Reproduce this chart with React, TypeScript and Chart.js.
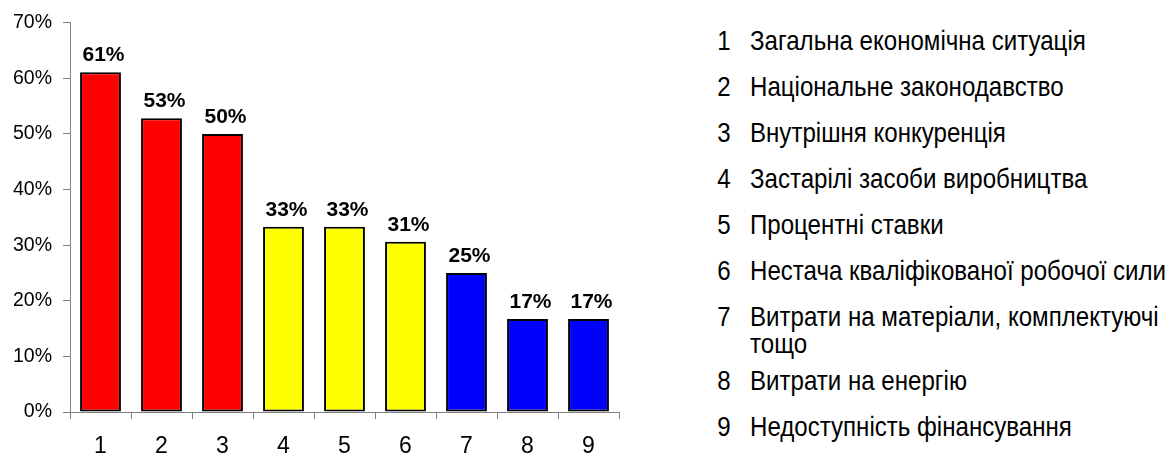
import React, { useEffect, useMemo, useRef } from "react";
import { Chart, registerables } from "chart.js";

Chart.register(...registerables);

// ---- data ----
const categories = ["1", "2", "3", "4", "5", "6", "7", "8", "9"];
const shares = [61.1, 52.8, 50.0, 33.3, 33.3, 30.6, 25.0, 16.7, 16.7];
const barColors = ["#FF0000", "#FF0000", "#FF0000", "#FFFF00", "#FFFF00", "#FFFF00", "#0000FF", "#0000FF", "#0000FF"];
const yTickValues = [0, 10, 20, 30, 40, 50, 60, 70];
const legendItems = [
  "Загальна економічна ситуація",
  "Національне законодавство",
  "Внутрішня конкуренція",
  "Застарілі засоби виробництва",
  "Процентні ставки",
  "Нестача кваліфікованої робочої сили",
  "Витрати на матеріали, комплектуючі тощо",
  "Витрати на енергію",
  "Недоступність фінансування",
];

const FONT = "'Liberation Sans', Arial, sans-serif";
const LEGEND_FONT_SIZE = 28;
const LEGEND_TEXT_WIDTH = 416; // visual width of the longest single-line entry

const valueLabelPlugin = {
  id: "valueLabels",
  afterDatasetsDraw(chart: any) {
    const { ctx } = chart;
    const meta = chart.getDatasetMeta(0);
    ctx.save();
    ctx.font = `bold 21px ${FONT}`;
    ctx.fillStyle = "#000";
    ctx.textAlign = "center";
    ctx.textBaseline = "alphabetic";
    meta.data.forEach((el: any, i: number) => {
      const v = chart.data.datasets[0].data[i] as number;
      ctx.fillText(Math.round(v) + "%", el.x + 3, el.y - 11);
    });
    ctx.restore();
  },
};

export default function App() {
  const canvasRef = useRef<HTMLCanvasElement | null>(null);

  const legendScale = useMemo(() => {
    const c = document.createElement("canvas").getContext("2d");
    if (!c) return 0.85;
    c.font = `${LEGEND_FONT_SIZE}px ${FONT}`;
    const w = c.measureText(legendItems[5]).width;
    return w > 0 ? LEGEND_TEXT_WIDTH / w : 0.85;
  }, []);

  useEffect(() => {
    if (!canvasRef.current) return;
    const chart = new Chart(canvasRef.current, {
      type: "bar",
      data: {
        labels: categories,
        datasets: [
          {
            data: shares,
            backgroundColor: barColors,
            borderColor: "#000000",
            borderWidth: 2,
            borderSkipped: false,
            categoryPercentage: 0.67,
            barPercentage: 1,
          },
        ],
      },
      options: {
        animation: false,
        responsive: true,
        maintainAspectRatio: false,
        layout: { padding: { left: 13, right: 21, top: 13, bottom: 0 } },
        plugins: {
          legend: { display: false },
          tooltip: { enabled: false },
        },
        scales: {
          x: {
            afterFit: (scale: any) => {
              scale.height = 43;
            },
            grid: {
              display: true,
              offset: true,
              drawOnChartArea: false,
              drawTicks: true,
              tickLength: 7,
              color: "#808080",
            },
            border: { display: true, color: "#808080", width: 1 },
            ticks: {
              color: "#000",
              padding: 14,
              font: { family: FONT, size: 23 },
            },
          },
          y: {
            min: 0,
            max: 70,
            afterFit: (scale: any) => {
              scale.width = 57;
            },
            afterBuildTicks: (scale: any) => {
              scale.ticks = yTickValues.map((v) => ({ value: v }));
            },
            grid: {
              display: true,
              drawOnChartArea: false,
              drawTicks: true,
              tickLength: 7,
              color: "#808080",
            },
            border: { display: true, color: "#808080", width: 1 },
            ticks: {
              color: "#000",
              padding: 11,
              font: { family: FONT, size: 19.5 },
              callback: (v: any) => v + "%",
            },
          },
        },
      },
      plugins: [valueLabelPlugin],
    });
    return () => chart.destroy();
  }, []);

  return (
    <div
      style={{
        position: "absolute",
        left: 0,
        top: 0,
        width: 1169,
        height: 455,
        overflow: "hidden",
        background: "#fff",
      }}
    >
      <div style={{ position: "absolute", left: 0, top: 0, width: 640, height: 455 }}>
        <canvas ref={canvasRef} />
      </div>
      <div
        style={{
          position: "absolute",
          left: 700,
          top: 27,
          width: 469,
          fontFamily: FONT,
          fontSize: LEGEND_FONT_SIZE,
          lineHeight: "27px",
          color: "#000",
        }}
      >
        {legendItems.map((t, i) => (
          <div
            key={i}
            style={{
              display: "flex",
              alignItems: "flex-start",
              marginBottom: i === 6 ? 10 : 19,
            }}
          >
            <span style={{ width: 31, flex: "none", display: "flex", justifyContent: "flex-end" }}>
              <span
                style={{
                  display: "inline-block",
                  transform: `scaleX(${legendScale})`,
                  transformOrigin: "100% 0",
                }}
              >
                {i + 1}
              </span>
            </span>
            <span style={{ marginLeft: 19, width: 420, flex: "none" }}>
              <span
                style={{
                  display: "block",
                  width: 420 / legendScale,
                  transform: `scaleX(${legendScale})`,
                  transformOrigin: "0 0",
                }}
              >
                {t}
              </span>
            </span>
          </div>
        ))}
      </div>
    </div>
  );
}
